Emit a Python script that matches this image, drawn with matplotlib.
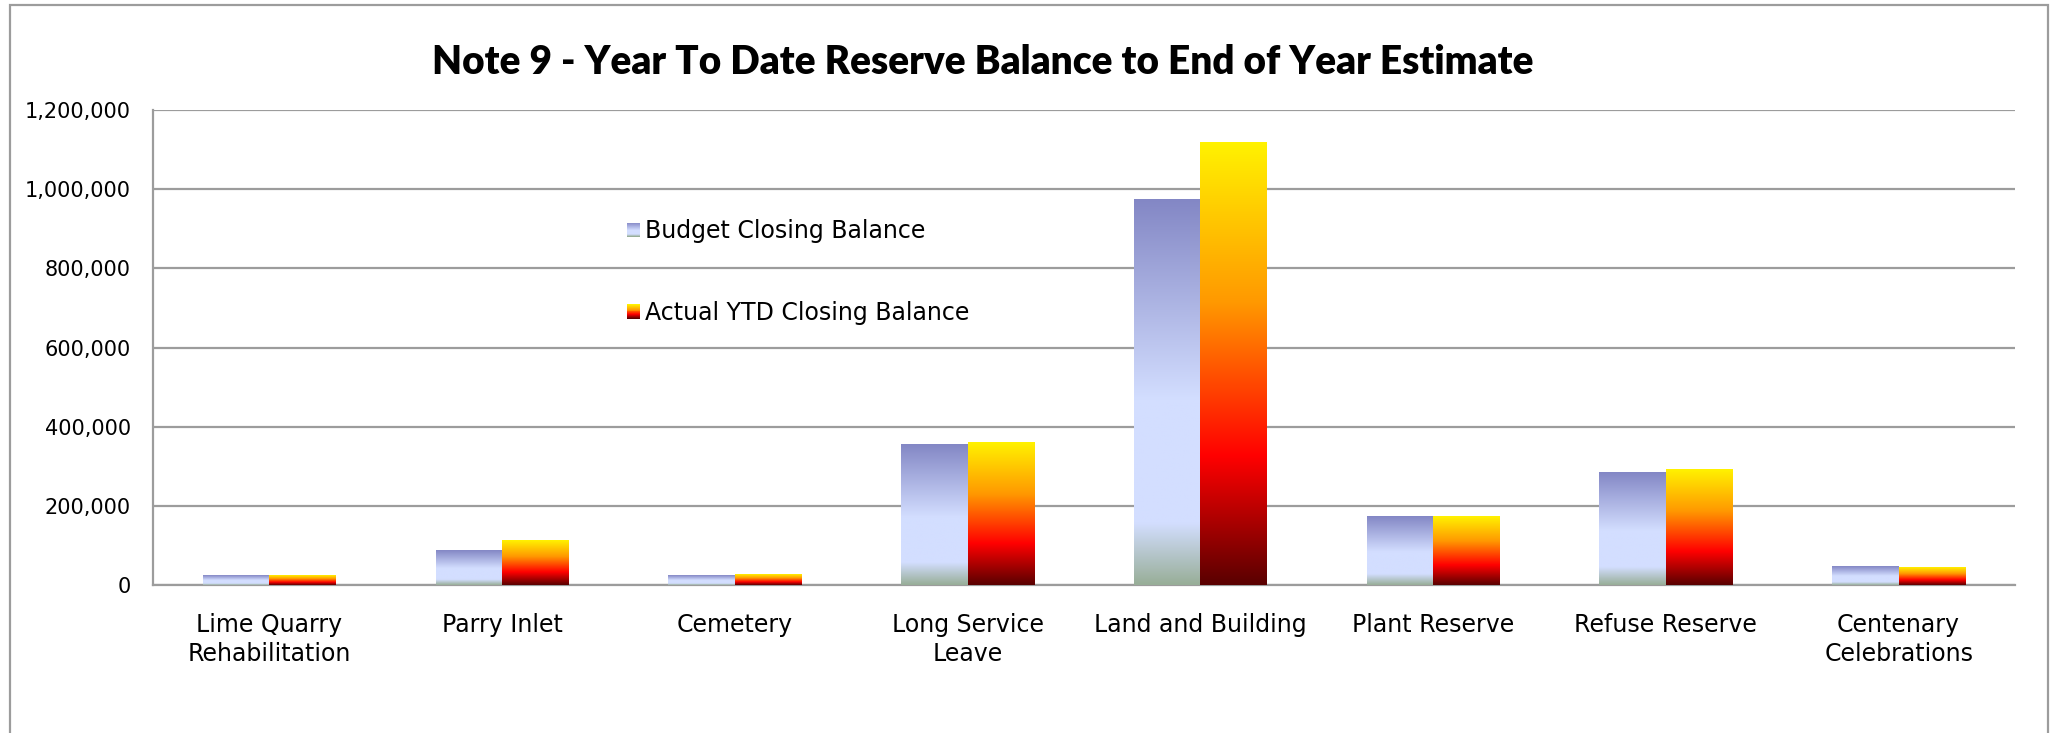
import numpy as np
import matplotlib
matplotlib.use("Agg")
import matplotlib.pyplot as plt
from matplotlib.colors import LinearSegmentedColormap
from matplotlib.legend_handler import HandlerBase
from matplotlib.patches import Patch, Rectangle

categories = [
    "Lime Quarry\nRehabilitation",
    "Parry Inlet",
    "Cemetery",
    "Long Service\nLeave",
    "Land and Building",
    "Plant Reserve",
    "Refuse Reserve",
    "Centenary\nCelebrations",
]
budget = [25000, 86000, 25000, 354000, 975000, 174000, 283000, 48000]
actual = [25000, 112000, 27000, 359000, 1117000, 174000, 293000, 43000]
series_names = ["Budget Closing Balance", "Actual YTD Closing Balance"]
yticks = [0, 200000, 400000, 600000, 800000, 1000000, 1200000]
title = "Note 9 - Year To Date Reserve Balance to End of Year Estimate"

# gradients run top -> bottom of each bar
budget_cmap = LinearSegmentedColormap.from_list(
    "budget", [(0, "#8387C5"), (0.52, "#D3DEFF"), (0.84, "#D3DEFF"), (1.0, "#98AE98")])
actual_cmap = LinearSegmentedColormap.from_list(
    "actual", [(0, "#FFF200"), (0.36, "#FF9900"), (0.71, "#FF0000"), (1.0, "#5A0000")])

GRID = "#9C9C9C"


class GradientHandler(HandlerBase):
    def __init__(self, cmap, n=16):
        super().__init__()
        self.cmap = cmap
        self.n = n

    def create_artists(self, legend, orig_handle, xdescent, ydescent,
                       width, height, fontsize, trans):
        arts = []
        for i in range(self.n):
            y = -ydescent + height * (1 - (i + 1) / self.n)
            r = Rectangle((-xdescent, y), width, height / self.n,
                          facecolor=self.cmap(i / (self.n - 1)), edgecolor="none",
                          transform=trans)
            arts.append(r)
        return arts


def gradient_bars(ax, bars, cmap):
    grad = np.linspace(0, 1, 256).reshape(-1, 1)
    for b in bars:
        x0, w, h = b.get_x(), b.get_width(), b.get_height()
        ax.imshow(grad, cmap=cmap, origin="upper", aspect="auto",
                  extent=[x0, x0 + w, 0, h], zorder=3, interpolation="bilinear")


def main() -> None:
    W, H = 2057, 733
    fig = plt.figure(figsize=(W / 100, H / 100), dpi=100)
    ax = fig.add_axes([153 / W, 1 - 585 / H, (2015 - 153) / W, (585 - 110) / H])

    x = np.arange(len(categories))
    bw = 1 / 3.5
    b1 = ax.bar(x - bw / 2, budget, bw, color="none", edgecolor="none", zorder=3)
    b2 = ax.bar(x + bw / 2, actual, bw, color="none", edgecolor="none", zorder=3)
    gradient_bars(ax, b1, budget_cmap)
    gradient_bars(ax, b2, actual_cmap)

    ax.set_xlim(-0.5, len(categories) - 0.5)
    ax.set_ylim(0, 1200000)
    ax.set_yticks(yticks)
    ax.set_yticklabels([f"{v:,}" for v in yticks],
                       family=["Liberation Sans Narrow", "DejaVu Sans"], fontsize=15)
    ax.set_xticks(x)
    ax.set_xticklabels(categories, fontsize=17, family="DejaVu Sans", linespacing=1.3)
    ax.tick_params(axis="x", length=0, pad=20)
    ax.tick_params(axis="y", length=0, pad=16)

    ax.grid(axis="y", color=GRID, linewidth=1.6, zorder=0)
    ax.set_axisbelow(True)
    for s in ["top", "right"]:
        ax.spines[s].set_visible(False)
    for s in ["left", "bottom"]:
        ax.spines[s].set_color(GRID)
        ax.spines[s].set_linewidth(1.6)

    h1 = Patch(label=series_names[0])
    h2 = Patch(label=series_names[1])
    fig.legend(handles=[h1, h2], loc="upper left",
               bbox_to_anchor=(627 / W, 1 - 219 / H), bbox_transform=fig.transFigure,
               frameon=False, prop={"family": "DejaVu Sans", "size": 17},
               handlelength=0.55, handleheight=0.55, handletextpad=0.2,
               labelspacing=2.45, borderpad=0, borderaxespad=0,
               handler_map={h1: GradientHandler(budget_cmap), h2: GradientHandler(actual_cmap)})

    t = fig.text(983 / W, 1 - 62 / H, title, ha="center", va="center",
                 fontsize=30, fontweight="heavy", family=["Lato", "DejaVu Sans"])
    fig.canvas.draw()
    tw = t.get_window_extent().width
    t.set_fontsize(30 * 1099 / tw)

    fig.add_artist(Rectangle((10 / W, -0.05), (2048 - 10) / W, 1 - 5 / H + 0.05,
                             transform=fig.transFigure, fill=False,
                             edgecolor=GRID, linewidth=1.6))

    fig.savefig("out.png", dpi=100)


if __name__ == "__main__":
    main()
